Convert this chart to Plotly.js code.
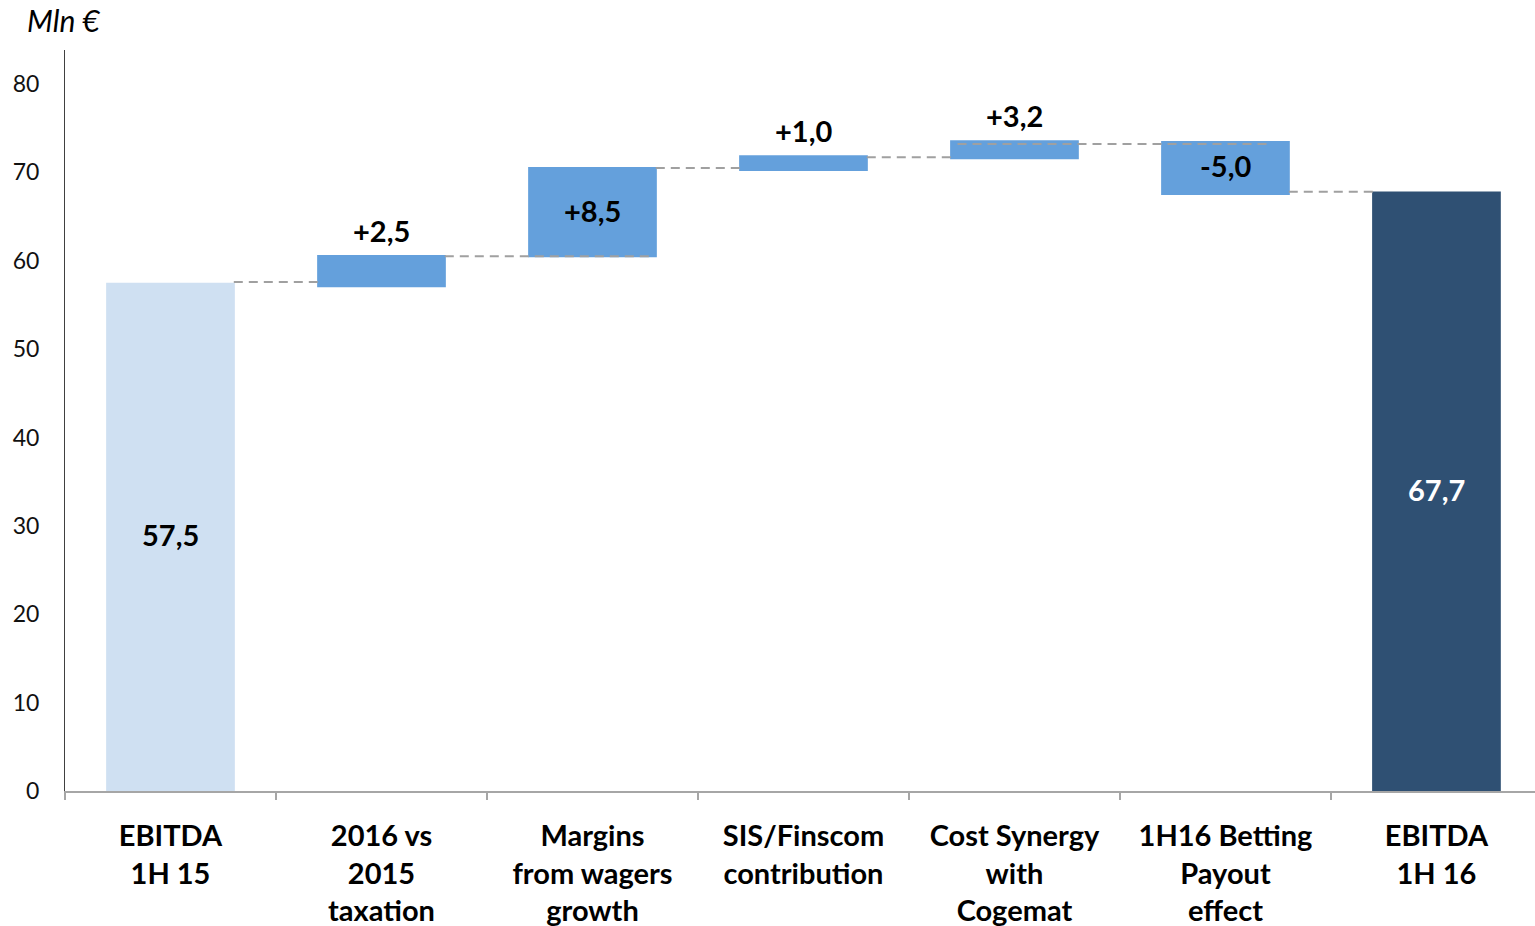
<!DOCTYPE html>
<html>
<head>
<meta charset="utf-8">
<script src="https://cdn.plot.ly/plotly-3.0.1.min.js"></script>
<style>html,body{margin:0;padding:0;background:#fff;}#chart{width:1535px;height:926px;}</style>
</head>
<body>
<div id="chart"></div>
<script>
// ---- data ----
const categories = ['EBITDA<br>1H 15', '2016 vs<br>2015<br>taxation', 'Margins<br>from wagers<br>growth',
  'SIS/Finscom<br>contribution', 'Cost Synergy<br>with<br>Cogemat', '1H16 Betting<br>Payout<br>effect', 'EBITDA<br>1H 16'];
const barBottoms = [0, 57.0, 60.4, 70.15, 71.5, 67.45, 0];
const barTops = [57.5, 60.65, 70.6, 71.95, 73.65, 73.55, 67.85];
const valueLabels = ['57,5', '+2,5', '+8,5', '+1,0', '+3,2', '-5,0', '67,7'];
const labelInside = [true, false, true, false, false, true, true];
const barColors = ['#cfe0f2', '#64a0dc', '#64a0dc', '#64a0dc', '#64a0dc', '#64a0dc', '#2f5073'];
const labelColors = ['#000000', '#000000', '#000000', '#000000', '#000000', '#000000', '#ffffff'];
// connector dashed segments (category units)
const connectorLevels = [57.6, 60.5, 70.5, 71.7, 73.2, 67.8];
const connectorFrom = [0.3, 1.3, 2.3, 3.3, 3.73, 5.3];
const connectorTo = [0.7, 2.28, 2.7, 3.7, 5.2, 5.7];
const yTicks = [0, 10, 20, 30, 40, 50, 60, 70, 80];

const xIdx = categories.map((c, i) => i);
const FONT = 'Lato, "Open Sans", sans-serif';

const traces = [{
  type: 'bar',
  x: xIdx,
  base: barBottoms,
  y: barTops.map((t, i) => t - barBottoms[i]),
  width: 0.61,
  marker: {color: barColors, line: {width: 0}},
  hoverinfo: 'skip',
  showlegend: false
}];

connectorLevels.forEach((lv, i) => {
  traces.push({
    type: 'scatter', mode: 'lines',
    x: [connectorFrom[i], connectorTo[i]], y: [lv, lv],
    line: {color: '#a0a0a0', width: 2, dash: '9px,6px'},
    hoverinfo: 'skip', showlegend: false
  });
});

const annotations = valueLabels.map((t, i) => ({
  x: i,
  y: labelInside[i] ? (barTops[i] + barBottoms[i]) / 2 : barTops[i],
  xref: 'x', yref: 'y',
  text: '<b>' + t + '</b>',
  showarrow: false,
  yanchor: 'middle',
  yshift: labelInside[i] ? 2 : 25,
  font: {family: FONT, size: 29, color: labelColors[i]}
}));

const layout = {
  width: 1535, height: 926,
  margin: {l: 65, r: 0, t: 50, b: 135},
  paper_bgcolor: '#ffffff', plot_bgcolor: '#ffffff',
  title: {
    text: '<i>Mln €</i>', xref: 'container', yref: 'container',
    x: 27 / 1535, xanchor: 'left', y: 1 - 21 / 926, yanchor: 'middle',
    font: {family: FONT, size: 30, color: '#000000'}
  },
  xaxis: {
    range: [-0.5, 6.467],
    tickvals: xIdx, ticktext: categories.map(c => '<b>' + c + '</b>'),
    ticks: '', showgrid: false, zeroline: false,
    showline: true, linecolor: '#a6a6a6', linewidth: 2,
    ticklabelstandoff: 18,
    tickfont: {family: FONT, size: 29, color: '#000000'},
    minor: {tickvals: [-0.5, 0.5, 1.5, 2.5, 3.5, 4.5, 5.5], ticks: 'outside', ticklen: 7, tickcolor: '#a6a6a6', tickwidth: 2, showgrid: false},
    fixedrange: true
  },
  yaxis: {
    range: [0, 83.85],
    tickvals: yTicks, ticktext: yTicks.map(String),
    ticks: '', showgrid: false, zeroline: false,
    showline: true, linecolor: '#404040', linewidth: 1,
    ticklabelstandoff: 20,
    tickfont: {family: FONT, size: 23, color: '#111111'},
    fixedrange: true
  },
  annotations: annotations,
  bargap: 0.39
};

Plotly.newPlot('chart', traces, layout, {displayModeBar: false, staticPlot: true});
</script>
</body>
</html>
